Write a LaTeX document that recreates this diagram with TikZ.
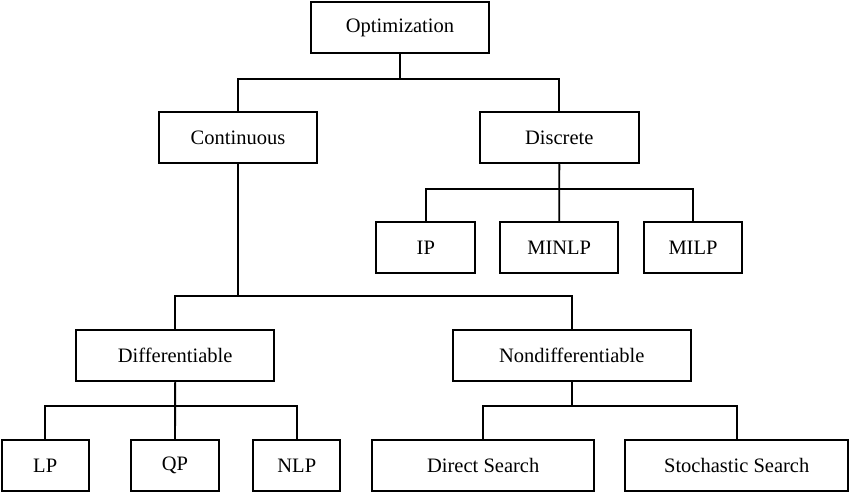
\documentclass[tikz,border=0pt]{standalone}
\usepackage{fontspec}
\setmainfont{Liberation Serif}
\usetikzlibrary{positioning}

\begin{document}
\begin{tikzpicture}[x=1pt, y=-1pt, every node/.style={font=\fontsize{20.5}{24}\selectfont},
  box/.style={draw, line width=1.9pt, minimum height=51pt, inner sep=0pt},
  link/.style={line width=1.9pt}]
  \useasboundingbox (0,0) rectangle (850,494);

  % Top level
  \node[box, minimum width=178.6pt] (opt) at (400, 27.8) {Optimization};

  % Second level
  \node[box, minimum width=158.6pt] (cont) at (238, 137.8) {Continuous};
  \node[box, minimum width=158.7pt] (disc) at (559.3, 137.8) {Discrete};
  \draw[link] (opt.south) -- (opt.south |- 0,78.7);
  \draw[link] (cont.north) |- (opt.south |- 0,78.7) -| (disc.north);

  % Discrete problems
  \node[box, minimum width=99pt] (ip) at (425.8, 247.7) {IP};
  \node[box, minimum width=117.7pt] (minlp) at (559.2, 247.7) {MINLP};
  \node[box, minimum width=98.6pt] (milp) at (693, 247.7) {MILP};
  \draw[link] (disc.south) -- (minlp.north);
  \draw[link] (ip.north) |- (disc.south |- 0,188.7) -| (milp.north);

  % Continuous problems
  \node[box, minimum width=198.3pt] (diff) at (175.2, 355.5) {Differentiable};
  \node[box, minimum width=238pt] (nondiff) at (571.7, 355.5) {Nondifferentiable};
  \draw[link] (cont.south) -- (cont.south |- 0,296);
  \draw[link] (diff.north) |- (cont.south |- 0,296) -| (nondiff.north);

  % Differentiable problems
  \node[box, minimum width=87pt] (lp) at (45.2, 465.7) {LP};
  \node[box, minimum width=87.4pt] (qp) at (175, 465.7) {QP};
  \node[box, minimum width=87pt] (nlp) at (296.8, 465.7) {NLP};
  \draw[link] (diff.south) -- (qp.north);
  \draw[link] (lp.north) |- (diff.south |- 0,406.3) -| (nlp.north);

  % Nondifferentiable methods
  \node[box, minimum width=222.3pt] (direct) at (483.2, 465.7) {Direct Search};
  \node[box, minimum width=223.3pt] (stoch) at (736.7, 465.7) {Stochastic Search};
  \draw[link] (nondiff.south) -- (nondiff.south |- 0,406.3);
  \draw[link] (direct.north) |- (nondiff.south |- 0,406.3) -| (stoch.north);
\end{tikzpicture}
\end{document}
